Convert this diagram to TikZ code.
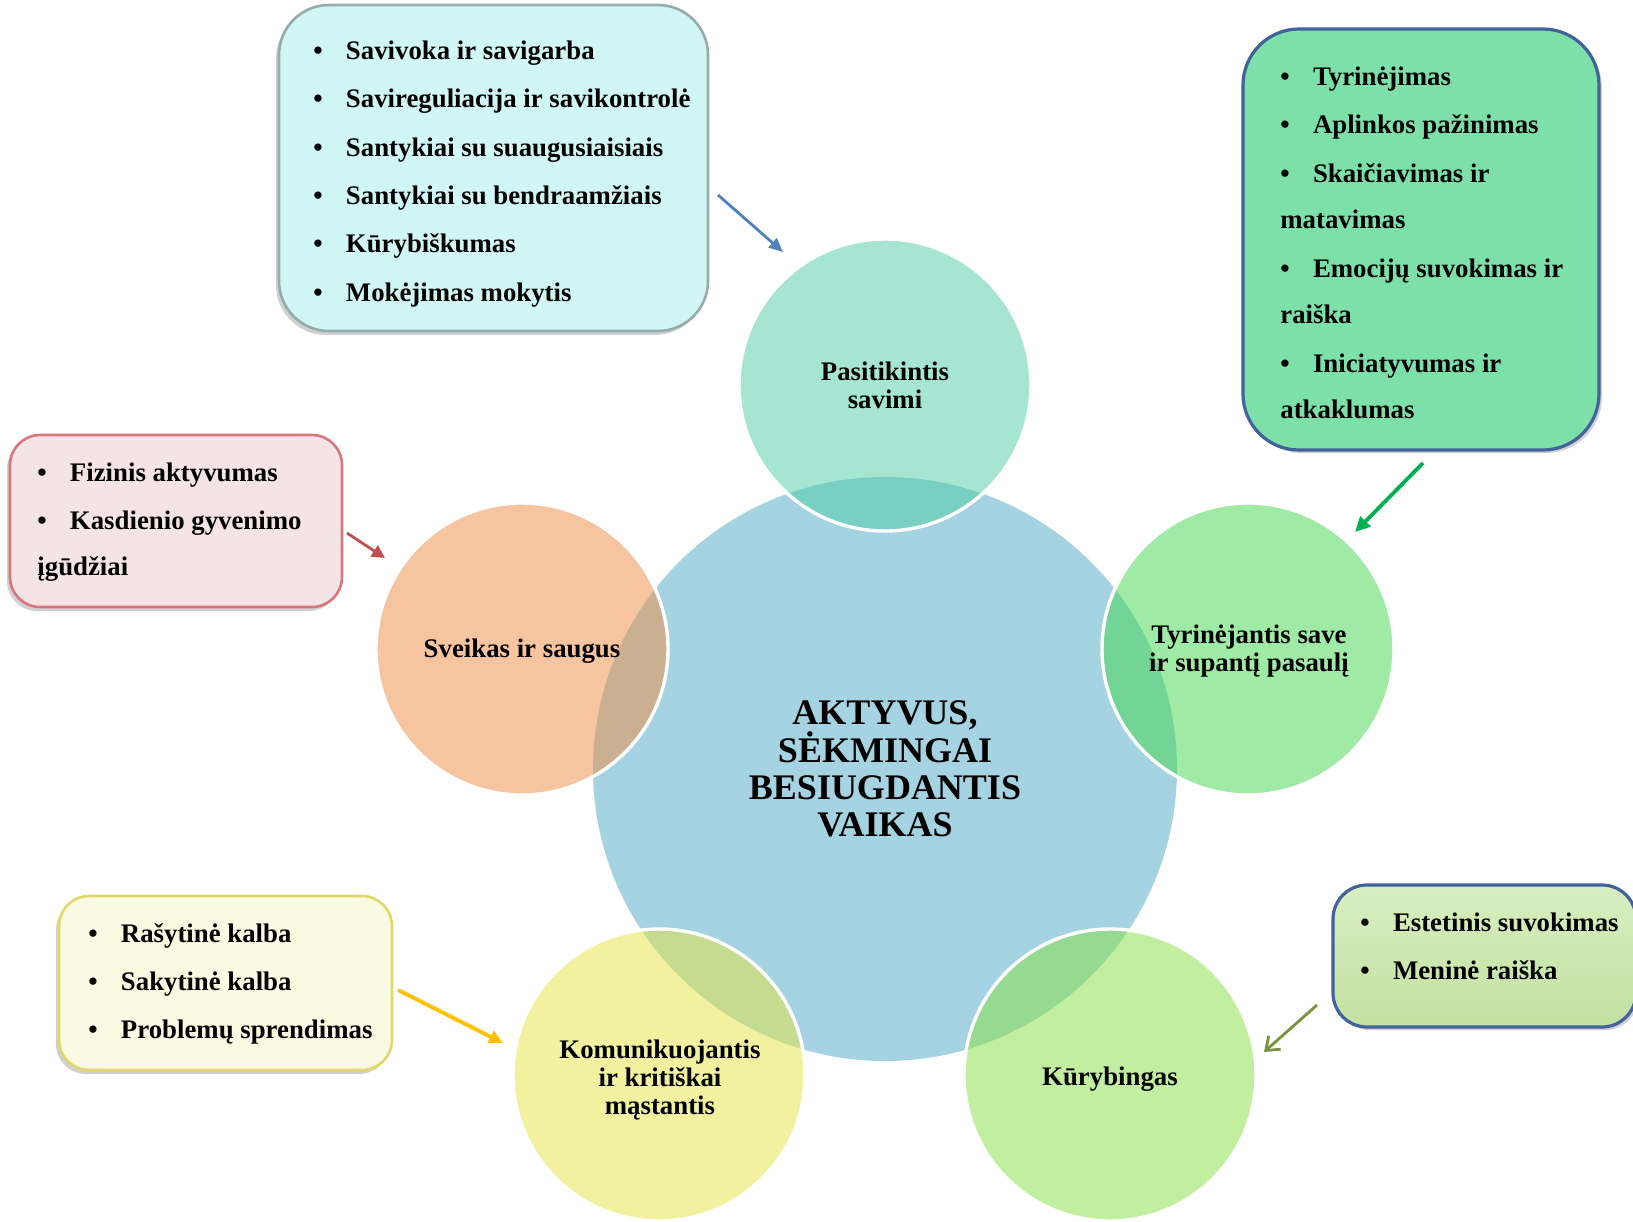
\documentclass[tikz,border=0pt]{standalone}
\usepackage{fontspec}
\setmainfont{Liberation Serif}
\usetikzlibrary{arrows.meta,shadows}
\definecolor{cblue}{RGB}{165,211,225}
\definecolor{cteal}{RGB}{77,205,165}
\definecolor{corange}{RGB}{239,141,65}
\definecolor{cgreen}{RGB}{65,215,75}
\definecolor{cyellow}{RGB}{229,229,65}
\definecolor{clgreen}{RGB}{135,225,65}
\definecolor{bcyan}{RGB}{209,246,246}
\definecolor{bcyanedge}{RGB}{150,172,172}
\definecolor{bgreen}{RGB}{125,224,168}
\definecolor{bnavy}{RGB}{66,98,156}
\definecolor{bpink}{RGB}{245,228,230}
\definecolor{bpinkedge}{RGB}{217,118,124}
\definecolor{byellow}{RGB}{250,250,226}
\definecolor{byellowedge}{RGB}{226,216,105}
\definecolor{blgtop}{RGB}{216,238,192}
\definecolor{blgbot}{RGB}{194,225,162}
\definecolor{arblue}{RGB}{79,129,189}
\definecolor{argreen}{RGB}{0,176,80}
\definecolor{arred}{RGB}{192,80,77}
\definecolor{aryellow}{RGB}{255,192,0}
\definecolor{arolive}{RGB}{119,147,60}
\newcommand{\txtfont}{\fontsize{13.4}{14}\selectfont\bfseries}
\newcommand{\corefont}{\fontsize{18}{18.6}\selectfont\bfseries}
\newcommand{\bl}[1]{\makebox[16.3pt][l]{\textbullet}#1}
\tikzset{
  outercirc/.style={circle, inner sep=0pt, minimum size=146pt, fill opacity=0.5,
    draw=white, line width=1.7pt},
  circlabel/.style={inner sep=0pt, align=center, font=\txtfont},
  boxbase/.style={inner sep=0pt, line width=1.3pt},
  itemline/.style={inner sep=0pt, anchor=base west, font=\txtfont},
  arr/.style={line width=1.4pt},
  softshadow/.style={drop shadow={shadow xshift=-1.5pt, shadow yshift=-2pt, opacity=0.3, fill=black!60}},
  rshadow/.style={drop shadow={shadow xshift=1.5pt, shadow yshift=-1.5pt, opacity=0.3, fill=black!60}}
}
\begin{document}
\begin{tikzpicture}[x=0.5pt,y=-0.5pt]
\useasboundingbox[fill=white] (0,0) rectangle (1633,1221);

% central circle
\node[circle, fill=cblue, minimum size=292pt, inner sep=0pt, align=center, font=\corefont] (core) at (885,769)
  {AKTYVUS,\\SĖKMINGAI\\BESIUGDANTIS\\VAIKAS};

% outer circles
\node[outercirc, fill=cteal] (c1) at (885,385) {};
\node[outercirc, fill=corange] (c2) at (522,649) {};
\node[outercirc, fill=cgreen] (c3) at (1248,649) {};
\node[outercirc, fill=cyellow] (c4) at (659,1075) {};
\node[outercirc, fill=clgreen] (c5) at (1110,1075) {};

% circle labels
\node[circlabel] (l1) at (885,385) {Pasitikintis\\savimi};
\node[circlabel] (l2) at (522,651) {Sveikas ir saugus};
\node[circlabel] (l3) at (1249,651) {Tyrinėjantis save\\ir supantį pasaulį};
\node[circlabel] (l4) at (660,1080) {Komunikuojantis\\ir kritiškai\\mąstantis};
\node[circlabel] (l5) at (1110,1079) {Kūrybingas};

% boxes
\node[boxbase, draw=bcyanedge, fill=bcyan, rounded corners=25pt, minimum width=214.5pt, minimum height=163pt, softshadow] (b1) at (493.5,168) {};
\node[boxbase, draw=bnavy, fill=bgreen, line width=1.6pt, rounded corners=28pt, minimum width=178pt, minimum height=210.5pt, rshadow] (b2) at (1421,239.5) {};
\node[boxbase, draw=bpinkedge, fill=bpink, rounded corners=15pt, minimum width=166pt, minimum height=86pt, softshadow] (b3) at (176,521) {};
\node[boxbase, draw=byellowedge, fill=byellow, rounded corners=15pt, minimum width=166.5pt, minimum height=87pt, softshadow] (b4) at (225.5,983) {};
\node[boxbase, draw=bnavy, top color=blgtop, bottom color=blgbot, line width=1.6pt, rounded corners=17pt, minimum width=151.5pt, minimum height=71pt, rshadow] (b5) at (1484.5,956) {};

% box texts
\node[itemline] (t11) at (313,59) {\bl{Savivoka ir savigarba}};
\node[itemline] (t12) at (313,107.5) {\bl{Savireguliacija ir savikontrolė}};
\node[itemline] (t13) at (313,156) {\bl{Santykiai su suaugusiaisiais}};
\node[itemline] (t14) at (313,204) {\bl{Santykiai su bendraamžiais}};
\node[itemline] (t15) at (313,252.5) {\bl{Kūrybiškumas}};
\node[itemline] (t16) at (313,301) {\bl{Mokėjimas mokytis}};

\node[itemline] (t21) at (1280,85) {\bl{Tyrinėjimas}};
\node[itemline] (t22) at (1280,133) {\bl{Aplinkos pažinimas}};
\node[itemline] (t23) at (1280,182) {\bl{Skaičiavimas ir}};
\node[itemline] (t24) at (1280,228) {matavimas};
\node[itemline] (t25) at (1280,277) {\bl{Emocijų suvokimas ir}};
\node[itemline] (t26) at (1280,323) {raiška};
\node[itemline] (t27) at (1280,372) {\bl{Iniciatyvumas ir}};
\node[itemline] (t28) at (1280,418) {atkaklumas};

\node[itemline] (t31) at (37,481) {\bl{Fizinis aktyvumas}};
\node[itemline] (t32) at (37,529) {\bl{Kasdienio gyvenimo}};
\node[itemline] (t33) at (37,575) {įgūdžiai};

\node[itemline] (t41) at (88,942) {\bl{Rašytinė kalba}};
\node[itemline] (t42) at (88,990) {\bl{Sakytinė kalba}};
\node[itemline] (t43) at (88,1038) {\bl{Problemų sprendimas}};

\node[itemline] (t51) at (1360,931) {\bl{Estetinis suvokimas}};
\node[itemline] (t52) at (1360,979) {\bl{Meninė raiška}};

% arrows
\coordinate (a1s) at (718,195); \coordinate (a1e) at (783,252);
\coordinate (a2s) at (1423,463); \coordinate (a2e) at (1355,532);
\coordinate (a3s) at (347,533); \coordinate (a3e) at (385,558);
\coordinate (a4s) at (398,990); \coordinate (a4e) at (503,1043);
\coordinate (a5s) at (1317,1005); \coordinate (a5e) at (1264,1052);
\draw[arr, arblue, -{Triangle[length=7pt,width=6pt]}] (a1s) -- (a1e);
\draw[arr, argreen, line width=1.9pt, -{Triangle[length=7.5pt,width=7pt]}] (a2s) -- (a2e);
\draw[arr, arred, -{Triangle[length=6.5pt,width=6.5pt]}] (a3s) -- (a3e);
\draw[arr, aryellow, line width=1.9pt, -{Triangle[length=7pt,width=6.5pt]}] (a4s) -- (a4e);
\draw[arr, arolive, -{Straight Barb[length=6pt,width=9pt]}] (a5s) -- (a5e);
\end{tikzpicture}
\end{document}
